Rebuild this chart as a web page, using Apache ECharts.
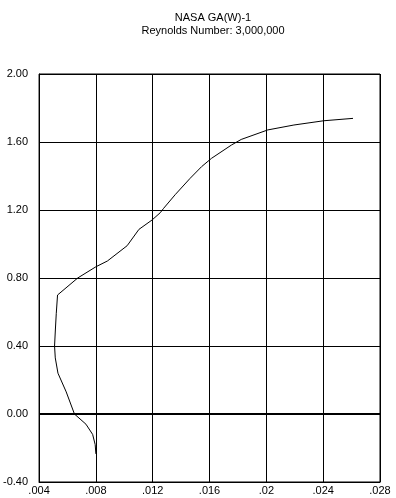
<!DOCTYPE html>
<html><head><meta charset="utf-8">
<script src="https://cdn.jsdelivr.net/npm/echarts@6/dist/echarts.min.js"></script>
<style>html,body{margin:0;padding:0;background:#fff}#c{width:396px;height:498px}</style>
</head><body><div id="c"></div>
<script>
var titleLines = ['NASA GA(W)-1', 'Reynolds Number: 3,000,000'];
var cdValues = [0.00800,0.00795,0.00777,0.00730,0.00649,0.00591,0.00533,0.00514,0.00509,0.00515,0.00521,0.00530,0.00672,0.00800,0.00881,0.01020,0.01103,0.01195,0.01253,0.01277,0.01358,0.01463,0.01544,0.01614,0.01754,0.01823,0.02010,0.02194,0.02404,0.02610];
var clValues = [-0.235,-0.18,-0.12,-0.06,0.00,0.13,0.24,0.33,0.40,0.50,0.59,0.70,0.80,0.866,0.90,0.99,1.086,1.141,1.184,1.21,1.29,1.386,1.455,1.504,1.582,1.615,1.671,1.70,1.725,1.739];
var xTicks = [0.004,0.008,0.012,0.016,0.02,0.024,0.028];
var yTicks = [-0.4,0,0.4,0.8,1.2,1.6,2.0];

var font = 'Liberation Sans';
var chart = echarts.init(document.getElementById('c'), null, {renderer:'canvas'});
var pts = cdValues.map(function(x,i){return [x, clValues[i]];});
chart.setOption({
  backgroundColor:'#fff',
  animation:false,
  title:{text:titleLines.join('\n'), left:208, top:6, textAlign:'center',
    textStyle:{fontFamily:font,fontSize:11,fontWeight:'normal',color:'#000',lineHeight:13}},
  grid:{left:36,right:16,top:74,bottom:16,show:true,borderColor:'#000',borderWidth:1,backgroundColor:'transparent'},
  xAxis:{type:'value',min:xTicks[0],max:xTicks[xTicks.length-1],interval:0.004,
    axisLine:{onZero:false,lineStyle:{color:'#000'}},axisTick:{show:false},
    splitLine:{show:true,lineStyle:{color:'#000',width:1}},
    axisLabel:{color:'#000',fontFamily:font,fontSize:11,margin:3,
      formatter:function(v){return String(+v.toFixed(3)).replace(/^0/,'');}}},
  yAxis:{type:'value',min:yTicks[0],max:yTicks[yTicks.length-1],interval:0.4,
    axisLine:{show:true,lineStyle:{color:'#000'}},axisTick:{show:false},
    splitLine:{show:true,lineStyle:{color:'#000',width:1}},
    axisLabel:{color:'#000',fontFamily:font,fontSize:11,margin:11,
      formatter:function(v){return v.toFixed(2);}}},
  series:[{type:'line',data:pts,showSymbol:false,symbol:'none',
    lineStyle:{color:'#000',width:1},
    markLine:{silent:true,symbol:'none',label:{show:false},
      lineStyle:{color:'#000',width:2,type:'solid'},data:[{yAxis:0}]}}]
});
</script></body></html>
